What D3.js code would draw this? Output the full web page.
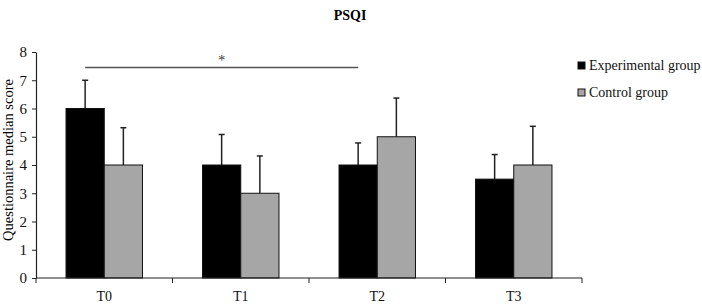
<!DOCTYPE html>
<html>
<head>
<meta charset="utf-8">
<script src="https://cdn.jsdelivr.net/npm/d3@7"></script>
<style>
  body { margin: 0; background: #fff; }
  svg text { font-family: "Liberation Serif", "DejaVu Serif", serif !important; }
</style>
</head>
<body>
<div id="chart"></div>
<script>
const categories = ["T0", "T1", "T2", "T3"];
const groups = ["Experimental group", "Control group"];
const experimental = [6, 4, 4, 3.5];
const control = [4, 3, 5, 4];
const experimentalErr = [1.0, 1.08, 0.78, 0.87];
const controlErr = [1.32, 1.32, 1.37, 1.37];
const yTicks = [0, 1, 2, 3, 4, 5, 6, 7, 8];

const colors = {"Experimental group": "#000000", "Control group": "#a6a6a6"};
const serif = "'Liberation Serif', 'DejaVu Serif', serif";

const margin = {top: 52, right: 120, bottom: 27, left: 36},
      width = 702 - margin.left - margin.right,
      height = 305 - margin.top - margin.bottom;

const svg = d3.select("#chart")
              .append("svg")
              .attr("width", 702)
              .attr("height", 305)
              .style("font-family", serif);

const g = svg.append("g")
             .attr("transform", `translate(${margin.left},${margin.top})`);

const x0 = d3.scaleBand().domain(categories).range([0, width]).padding(0);
const x1 = d3.scaleBand().domain(groups)
             .range([x0.bandwidth() * 0.22, x0.bandwidth() * 0.78]);
const y = d3.scaleLinear().domain([0, 8]).range([height, 0]);

const data = categories.map((c, i) => ({
  cat: c,
  vals: [
    {group: groups[0], v: experimental[i], e: experimentalErr[i]},
    {group: groups[1], v: control[i], e: controlErr[i]}
  ]
}));

const cat = g.selectAll(".cat")
  .data(data)
  .enter().append("g")
  .attr("transform", d => `translate(${x0(d.cat)},0)`);

// error bars (upward only)
cat.selectAll(".err")
  .data(d => d.vals)
  .enter().append("line")
  .attr("x1", d => x1(d.group) + x1.bandwidth() / 2)
  .attr("x2", d => x1(d.group) + x1.bandwidth() / 2)
  .attr("y1", d => y(d.v))
  .attr("y2", d => y(d.v + d.e))
  .attr("stroke", "#222")
  .attr("stroke-width", 1.5);

cat.selectAll(".cap")
  .data(d => d.vals)
  .enter().append("line")
  .attr("x1", d => x1(d.group) + x1.bandwidth() / 2 - 3)
  .attr("x2", d => x1(d.group) + x1.bandwidth() / 2 + 3)
  .attr("y1", d => y(d.v + d.e))
  .attr("y2", d => y(d.v + d.e))
  .attr("stroke", "#222")
  .attr("stroke-width", 1.5);

cat.selectAll("rect")
  .data(d => d.vals)
  .enter().append("rect")
  .attr("x", d => x1(d.group))
  .attr("y", d => y(d.v))
  .attr("width", x1.bandwidth())
  .attr("height", d => height - y(d.v))
  .attr("fill", d => colors[d.group])
  .attr("stroke", "#111")
  .attr("stroke-width", 1);

// y axis
const yAxis = g.append("g")
  .call(d3.axisLeft(y).tickValues(yTicks).tickSize(4).tickSizeOuter(0));
yAxis.attr("font-family", serif);
yAxis.select(".domain").attr("stroke", "#222").attr("stroke-width", 1.2);
yAxis.selectAll(".tick line").attr("stroke", "#222");
yAxis.selectAll("text")
  .attr("x", -9)
  .style("font-size", "15px")
  .attr("fill", "#111");

// x axis with ticks at band boundaries
const xAxis = g.append("g").attr("transform", `translate(0,${height})`);
xAxis.append("line")
  .attr("x1", 0).attr("x2", width)
  .attr("stroke", "#222").attr("stroke-width", 1.2);
xAxis.selectAll(".xt")
  .data(categories.concat(["end"]))
  .enter().append("line")
  .attr("x1", (d, i) => i * x0.step())
  .attr("x2", (d, i) => i * x0.step())
  .attr("y1", 0).attr("y2", 5)
  .attr("stroke", "#222");
xAxis.selectAll(".xl")
  .data(categories)
  .enter().append("text")
  .attr("x", d => x0(d) + x0.bandwidth() / 2)
  .attr("y", 23)
  .attr("text-anchor", "middle")
  .style("font-size", "14px")
  .attr("fill", "#111")
  .text(d => d);

// significance line T0 -> T2
const sigStart = x0("T0") + x1(groups[0]) + x1.bandwidth() / 2;
const sigEnd = x0("T2") + x1(groups[0]) + x1.bandwidth() / 2;
g.append("line")
  .attr("x1", sigStart)
  .attr("x2", sigEnd)
  .attr("y1", y(7.45)).attr("y2", y(7.45))
  .attr("stroke", "#555").attr("stroke-width", 1.5);
g.append("text")
  .attr("x", (sigStart + sigEnd) / 2)
  .attr("y", y(7.45) - 3)
  .attr("text-anchor", "middle")
  .style("font-size", "14px")
  .attr("fill", "#333")
  .text("*");

// title
svg.append("text")
  .attr("x", 350).attr("y", 20)
  .attr("text-anchor", "middle")
  .style("font-size", "14px")
  .style("font-weight", "bold")
  .text("PSQI");

// y label
svg.append("text")
  .attr("transform", `translate(13,${margin.top + height / 2 - 5}) rotate(-90)`)
  .attr("text-anchor", "middle")
  .style("font-size", "14.5px")
  .text("Questionnaire median score");

// legend
const legend = svg.selectAll(".legend")
  .data(groups)
  .enter().append("g")
  .attr("transform", (d, i) => `translate(578,${62 + i * 27})`);
legend.append("rect")
  .attr("width", 7).attr("height", 7)
  .attr("fill", d => colors[d])
  .attr("stroke", "#111");
legend.append("text")
  .attr("x", 11).attr("y", 8)
  .style("font-size", "14px")
  .attr("fill", "#111")
  .text(d => d);
</script>
</body>
</html>
